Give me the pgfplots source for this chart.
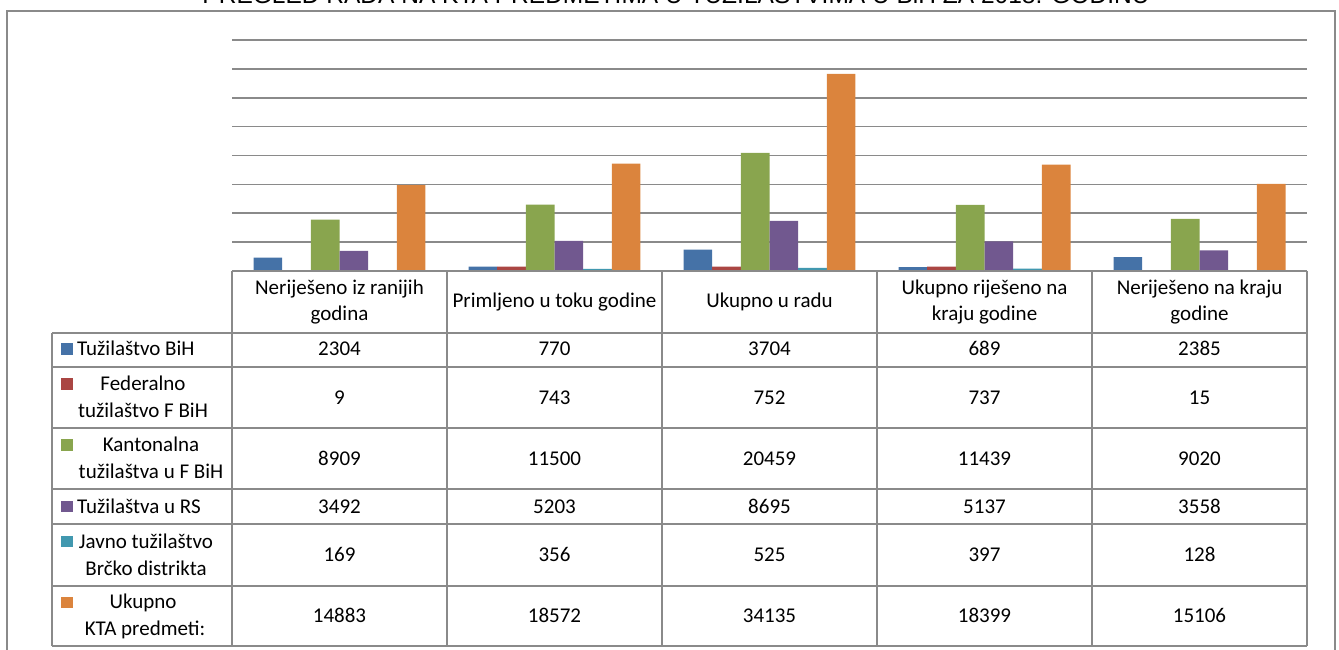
\documentclass[border=0pt]{standalone}
\usepackage{fontspec}
\setmainfont{Carlito}
\newfontfamily\titlefont{Liberation Sans}
\usepackage{pgfplots}
\pgfplotsset{compat=1.18}
\usepackage{pgfplotstable}
\definecolor{cBiH}{HTML}{4572A7}
\definecolor{cFed}{HTML}{AA4643}
\definecolor{cKant}{HTML}{89A54E}
\definecolor{cRS}{HTML}{71588F}
\definecolor{cBrc}{HTML}{4198AF}
\definecolor{cUk}{HTML}{DB843D}
\definecolor{gridc}{HTML}{8A8A8A}

\pgfplotstableread{
cat bih fed kant rs brcko uk
0 2304 9 8909 3492 169 14883
1 770 743 11500 5203 356 18572
2 3704 752 20459 8695 525 34135
3 689 737 11439 5137 397 18399
4 2385 15 9020 3558 128 15106
}\kta

\begin{document}
\begin{tikzpicture}[x=1bp,y=-1bp]
\path[use as bounding box, clip] (0,0) rectangle (1339,650);
\fontsize{21bp}{25bp}\selectfont
% outer frame
\draw[gridc, line width=2bp] (7,11) rectangle (1335,700);
% title (cut at top, as in the reference)
\node[anchor=base, inner sep=0pt] at (676,4) {\resizebox{947bp}{!}{\titlefont PREGLED RADA NA KTA PREDMETIMA U TUŽILAŠTVIMA U BiH ZA 2018. GODINU}};
\coordinate (axpos) at (232,271);
\begin{axis}[at={(axpos)}, anchor=south west, scale only axis,
  width=1075bp, height=231bp,
  xmin=-0.5, xmax=4.5, ymin=0, ymax=40000,
  ytick={0,5000,...,40000}, yticklabels={}, xtick=\empty,
  scaled y ticks=false,
  ymajorgrids, grid style={gridc, line width=1.6bp},
  axis line style={draw=none}, major tick length=0pt,
  ybar=0pt, bar width=0.1333, clip=false]
\addplot[fill=cBiH, draw=none] table[x=cat,y=bih]{\kta};
\addplot[fill=cFed, draw=none] table[x=cat,y=fed]{\kta};
\addplot[fill=cKant, draw=none] table[x=cat,y=kant]{\kta};
\addplot[fill=cRS, draw=none] table[x=cat,y=rs]{\kta};
\addplot[fill=cBrc, draw=none] table[x=cat,y=brcko]{\kta};
\addplot[fill=cUk, draw=none] table[x=cat,y=uk]{\kta};
\end{axis}
% table grid
\begin{scope}[gridc, line width=2bp]
\draw (232,271) -- (1307,271);
\foreach \yy in {333,367,428,489,524,586,646} \draw (52,\yy) -- (1307,\yy);
\draw (52,333) -- (52,646);
\foreach \xx in {232,447,662,877,1092,1307} \draw (\xx,271) -- (\xx,646);
\end{scope}
% header labels
\foreach \lab [count=\i from 0] in {{Neriješeno iz ranijih\\godina},{Primljeno u toku godine},{Ukupno u radu},{Ukupno riješeno na\\kraju godine},{Neriješeno na kraju\\godine}}
  \node[align=center, inner sep=0pt, font=\fontsize{21bp}{26bp}\selectfont] at ({339.5+215*\i},302) {\lab};
% legend column
\fill[cBiH] (61,343) rectangle (73,355);
\fill[cFed] (61,378) rectangle (73,390);
\fill[cKant] (61,439) rectangle (73,451);
\fill[cRS] (61,501) rectangle (73,512);
\fill[cBrc] (61,536) rectangle (73,547);
\fill[cUk] (61,597) rectangle (73,608);
\node[anchor=base west, inner sep=0pt] at (77,355) {Tužilaštvo BiH};
\node[anchor=base, inner sep=0pt] at (143,390) {Federalno};
\node[anchor=base, inner sep=0pt] at (143,417) {tužilaštvo F BiH};
\node[anchor=base, inner sep=0pt] at (151,451) {Kantonalna};
\node[anchor=base, inner sep=0pt] at (151,478) {tužilaštva u F BiH};
\node[anchor=base west, inner sep=0pt] at (77,513) {Tužilaštva u RS};
\node[anchor=base, inner sep=0pt] at (146,548) {Javno tužilaštvo};
\node[anchor=base, inner sep=0pt] at (146,575) {Brčko distrikta};
\node[anchor=base, inner sep=0pt] at (143,608) {Ukupno};
\node[anchor=base, inner sep=0pt] at (145,635) {KTA predmeti:};
% values from the table
\foreach \r in {0,...,4}{
  \foreach \c/\yb in {bih/355,fed/404,kant/465,rs/513,brcko/561,uk/622}{
    \pgfplotstablegetelem{\r}{\c}\of\kta
    \node[anchor=base, inner sep=0pt] at ({339.5+215*\r},\yb) {\pgfplotsretval};
  }
}
\end{tikzpicture}
\end{document}
